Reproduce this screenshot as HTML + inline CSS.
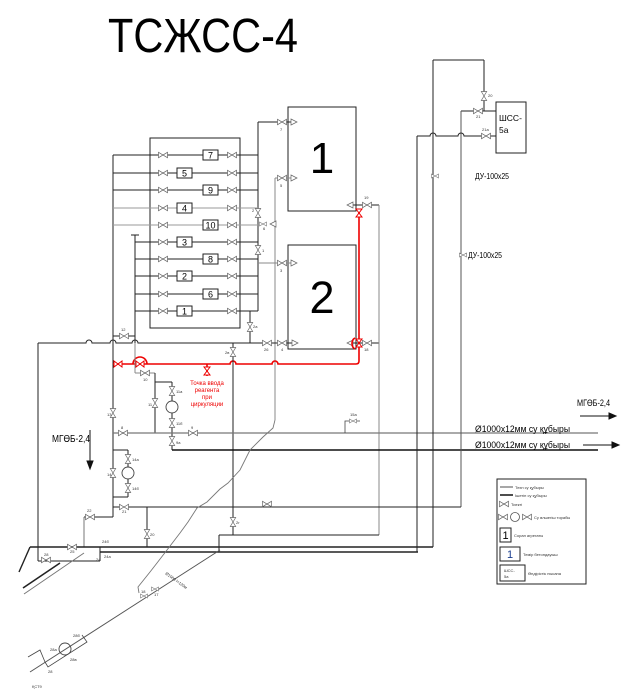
<!DOCTYPE html>
<html><head><meta charset="utf-8">
<style>
html,body{margin:0;padding:0;background:#fff;}
svg{display:block;}
text{font-family:"Liberation Sans",sans-serif;}
</style></head>
<body>
<svg width="625" height="693" viewBox="0 0 625 693" xmlns="http://www.w3.org/2000/svg">
<defs>
<g id="vh"><path d="M-4.5,-2.7 L4.5,2.7 L4.5,-2.7 L-4.5,2.7 Z" fill="#fff" stroke="#666" stroke-width="0.7"/></g>
<g id="vv"><path d="M-2.7,-4.5 L2.7,4.5 L-2.7,4.5 L2.7,-4.5 Z" fill="#fff" stroke="#666" stroke-width="0.7"/></g>
<g id="vs"><path d="M-3.5,-2 L3.5,2 L3.5,-2 L-3.5,2 Z" fill="#fff" stroke="#777" stroke-width="0.6"/></g>
<g id="vr"><path d="M-4,-3 L4,3 L4,-3 L-4,3 Z" fill="#fff" stroke="#e00" stroke-width="1"/></g>
<g id="vrv"><path d="M-3,-4 L3,4 L-3,4 L3,-4 Z" fill="#fff" stroke="#e00" stroke-width="1"/></g>
<g id="ar"><path d="M0,-3 L6,0 L0,3 Z" fill="#fff" stroke="#666" stroke-width="0.7"/></g>
<g id="al"><path d="M0,-3 L-6,0 L0,3 Z" fill="#fff" stroke="#666" stroke-width="0.7"/></g>
</defs>

<!-- Title -->
<text x="108" y="52" font-size="48" textLength="190" lengthAdjust="spacingAndGlyphs" fill="#000">ТСЖСС-4</text>

<!-- ===== Grid of pumps ===== -->
<g stroke="#222" stroke-width="1" fill="none">
  <rect x="150" y="138" width="90" height="190"/>
  <line x1="113" y1="155" x2="113" y2="517"/>
  <line x1="135" y1="235" x2="135" y2="343"/>
  <line x1="131" y1="235" x2="139" y2="235"/>
  <line x1="258" y1="122" x2="258" y2="311"/>
  <line x1="258" y1="311" x2="250" y2="311"/>
  <line x1="250" y1="311" x2="250" y2="343"/>
  <!-- rows -->
  <line x1="113" y1="155" x2="258" y2="155"/>
  <line x1="113" y1="173" x2="258" y2="173"/>
  <line x1="113" y1="190" x2="258" y2="190"/>
  <line x1="113" y1="208" x2="258" y2="208" stroke="#999"/>
  <line x1="113" y1="225" x2="258" y2="225" stroke="#999"/>
  <line x1="135" y1="242" x2="258" y2="242"/>
  <line x1="135" y1="259" x2="258" y2="259"/>
  <line x1="135" y1="276" x2="258" y2="276"/>
  <line x1="135" y1="294" x2="258" y2="294"/>
  <line x1="135" y1="311" x2="258" y2="311"/>
</g>
<g>
  <use href="#vh" x="163" y="155"/><use href="#vh" x="232" y="155"/>
  <use href="#vh" x="163" y="173"/><use href="#vh" x="232" y="173"/>
  <use href="#vh" x="163" y="190"/><use href="#vh" x="232" y="190"/>
  <use href="#vh" x="163" y="208"/><use href="#vh" x="232" y="208"/>
  <use href="#vh" x="163" y="225"/><use href="#vh" x="232" y="225"/>
  <use href="#vh" x="163" y="242"/><use href="#vh" x="232" y="242"/>
  <use href="#vh" x="163" y="259"/><use href="#vh" x="232" y="259"/>
  <use href="#vh" x="163" y="276"/><use href="#vh" x="232" y="276"/>
  <use href="#vh" x="163" y="294"/><use href="#vh" x="232" y="294"/>
  <use href="#vh" x="163" y="311"/><use href="#vh" x="232" y="311"/>
</g>
<g fill="#fff" stroke="#222" stroke-width="1">
  <rect x="203" y="150" width="15" height="10"/>
  <rect x="177" y="168" width="15" height="10"/>
  <rect x="203" y="185" width="15" height="10"/>
  <rect x="177" y="203" width="15" height="10"/>
  <rect x="203" y="220" width="15" height="10"/>
  <rect x="177" y="237" width="15" height="10"/>
  <rect x="203" y="254" width="15" height="10"/>
  <rect x="177" y="271" width="15" height="10"/>
  <rect x="203" y="289" width="15" height="10"/>
  <rect x="177" y="306" width="15" height="10"/>
</g>
<g font-size="9" text-anchor="middle" fill="#000">
  <text x="210.5" y="158.5">7</text>
  <text x="184.5" y="176.5">5</text>
  <text x="210.5" y="193.5">9</text>
  <text x="184.5" y="211.5">4</text>
  <text x="210.5" y="228.5">10</text>
  <text x="184.5" y="245.5">3</text>
  <text x="210.5" y="262.5">8</text>
  <text x="184.5" y="279.5">2</text>
  <text x="210.5" y="297.5">6</text>
  <text x="184.5" y="314.5">1</text>
</g>

<!-- ===== Big boxes 1 & 2 ===== -->
<g stroke="#222" stroke-width="1" fill="none">
  <rect x="288" y="107" width="68" height="104"/>
  <rect x="288" y="245" width="68" height="104"/>
  <line x1="258" y1="122" x2="292" y2="122"/>
  <line x1="275" y1="178" x2="292" y2="178" stroke="#888"/>
  <line x1="258" y1="263" x2="292" y2="263" stroke="#888"/>
  <line x1="275" y1="178" x2="275" y2="420" stroke="#888"/>
  <line x1="350" y1="205" x2="379" y2="205"/>
  <line x1="350" y1="343" x2="379" y2="343"/>
  <line x1="379" y1="205" x2="379" y2="535" stroke="#888"/>
</g>
<text x="322" y="173" font-size="44" text-anchor="middle" fill="#000">1</text>
<text x="322" y="313" font-size="45" text-anchor="middle" fill="#000">2</text>
<use href="#vh" x="282" y="122"/><use href="#ar" x="291" y="122"/>
<use href="#vh" x="282" y="178"/><use href="#ar" x="291" y="178"/>
<use href="#vh" x="282" y="263"/><use href="#ar" x="291" y="263"/>
<use href="#vv" x="258" y="213"/><use href="#vv" x="258" y="250"/>
<use href="#vs" x="263" y="224"/><use href="#al" x="276" y="224"/>
<use href="#vv" x="250" y="327"/>
<use href="#vh" x="367" y="205"/><use href="#al" x="353" y="205"/>
<use href="#vh" x="367" y="343"/><use href="#al" x="353" y="343"/>

<!-- main horizontal y=343 -->
<path d="M38,343 L86,343 A3,3 0 0 1 92,343 L110,343 A3,3 0 0 1 116,343 L132,343 A3,3 0 0 1 138,343 L298,343" stroke="#222" stroke-width="1" fill="none"/>
<use href="#vh" x="267" y="343"/><use href="#vh" x="282" y="343"/><use href="#ar" x="292" y="343"/>
<line x1="38" y1="343" x2="38" y2="561" stroke="#222" stroke-width="1"/>
<line x1="113" y1="336" x2="135" y2="336" stroke="#222" stroke-width="1"/>
<use href="#vh" x="124" y="336"/>

<!-- red circulation line -->
<g stroke="#e00" stroke-width="1.6" fill="none">
  <path d="M113,364 L230,364 A3,3 0 0 1 236,364 L272,364 A3,3 0 0 1 278,364 L356,364 Q359,364 359,361 L359,210"/>
  <path d="M133,364 A7,7 0 0 1 147,364"/>
  <path d="M355,338 A5,6 0 0 0 355,349" />
  <line x1="207" y1="364" x2="207" y2="376"/>
</g>
<use href="#vr" x="118" y="364"/><use href="#vr" x="140" y="364"/>
<use href="#vrv" x="359" y="213"/><use href="#vrv" x="359" y="343"/>
<use href="#vrv" x="207" y="371"/>
<g font-family="Liberation Serif, serif" font-size="6" fill="#e00" text-anchor="middle">
  <text x="207" y="385">Точка ввода</text>
  <text x="207" y="392">реагента</text>
  <text x="207" y="399">при</text>
  <text x="207" y="406">циркуляции</text>
</g>

<!-- pump branches -->
<g stroke="#222" stroke-width="1" fill="none">
  <line x1="135" y1="343" x2="135" y2="373" stroke="#888"/>
  <line x1="135" y1="373" x2="155" y2="373" stroke="#888"/>
  <line x1="155" y1="373" x2="155" y2="433"/>
  <line x1="155" y1="382" x2="172" y2="382"/>
  <line x1="172" y1="382" x2="172" y2="450"/>
  <line x1="233" y1="343" x2="233" y2="535"/>
  <line x1="219" y1="535" x2="379" y2="535"/>
  <line x1="219" y1="535" x2="219" y2="552"/>
  <line x1="113" y1="450" x2="128" y2="450"/>
  <line x1="128" y1="450" x2="128" y2="497"/>
  <line x1="113" y1="497" x2="128" y2="497"/>
</g>
<use href="#vh" x="145" y="373"/>
<use href="#vv" x="155" y="403"/>
<use href="#vv" x="172" y="391"/>
<circle cx="172" cy="407" r="6" fill="#fff" stroke="#444" stroke-width="0.9"/>
<use href="#vv" x="172" y="423"/>
<use href="#vv" x="172" y="441"/>
<use href="#vv" x="233" y="352"/>
<use href="#vv" x="113" y="413"/>
<use href="#vv" x="128" y="459"/>
<circle cx="128" cy="473" r="6" fill="#fff" stroke="#444" stroke-width="0.9"/>
<use href="#vv" x="128" y="488"/>
<use href="#vv" x="113" y="473"/>

<!-- main pipes -->
<line x1="113" y1="433" x2="598" y2="433" stroke="#777" stroke-width="1.2"/>
<line x1="172" y1="450" x2="598" y2="450" stroke="#111" stroke-width="1.6"/>
<use href="#vh" x="123" y="433"/><use href="#vh" x="193" y="433"/>
<path d="M345,433 L345,421 L360,421" stroke="#444" stroke-width="0.8" fill="none"/>
<use href="#vs" x="353" y="421"/>
<g font-size="9.5" fill="#000">
  <text x="475" y="432" textLength="95" lengthAdjust="spacingAndGlyphs">Ø1000x12мм су құбыры</text>
  <text x="475" y="448" textLength="95" lengthAdjust="spacingAndGlyphs">Ø1000x12мм су құбыры</text>
  <text x="577" y="406" font-size="9" textLength="33" lengthAdjust="spacingAndGlyphs">МГӨБ-2,4</text>
  <text x="52" y="442" font-size="10" textLength="38" lengthAdjust="spacingAndGlyphs">МГӨБ-2,4</text>
</g>
<g stroke="#111" stroke-width="1" fill="#111">
  <line x1="580" y1="416" x2="611" y2="416"/><path d="M609,413 L616,416 L609,419 Z"/>
  <line x1="583" y1="445" x2="614" y2="445"/><path d="M612,442 L619,445 L612,448 Z"/>
  <line x1="90" y1="430" x2="90" y2="463"/><path d="M87,461 L90,469 L93,461 Z"/>
</g>

<!-- right side -->
<g stroke="#222" stroke-width="1" fill="none">
  <line x1="433" y1="60" x2="433" y2="547"/>
  <line x1="433" y1="60" x2="484" y2="60"/>
  <line x1="484" y1="60" x2="484" y2="111"/>
  <line x1="461" y1="111" x2="496" y2="111"/>
  <line x1="461" y1="111" x2="461" y2="507" stroke="#555"/>
  <path d="M417,136 L430,136 A3,3 0 0 1 436,136 L458,136 A3,3 0 0 1 464,136 L496,136"/>
  <line x1="417" y1="136" x2="417" y2="552"/>
  <rect x="496" y="102" width="30" height="51"/>
</g>
<use href="#vv" x="484" y="96"/>
<use href="#vh" x="478" y="111"/>
<use href="#vh" x="486" y="136"/>
<use href="#vs" x="435" y="176"/>
<use href="#vs" x="463" y="255"/>
<text x="499" y="121" font-size="8.5" fill="#000">ШСС-</text>
<text x="499" y="133" font-size="8.5" fill="#000">5а</text>
<text x="475" y="179" font-size="8" fill="#000" textLength="34" lengthAdjust="spacingAndGlyphs">ДУ-100x25</text>
<text x="468" y="258" font-size="8" fill="#000" textLength="34" lengthAdjust="spacingAndGlyphs">ДУ-100x25</text>

<!-- lower section -->
<g stroke="#222" stroke-width="1" fill="none">
  <line x1="113" y1="507" x2="461" y2="507"/>
  <line x1="147" y1="507" x2="147" y2="547"/>
  <line x1="84" y1="517" x2="113" y2="517"/>
  <line x1="84" y1="517" x2="84" y2="547" stroke="#777"/>
  <line x1="30" y1="547" x2="433" y2="547" stroke-width="1.6"/>
  <line x1="100" y1="552" x2="418" y2="552" stroke-width="1.6"/>
  <line x1="38" y1="561" x2="100" y2="561"/>
  <line x1="100" y1="547" x2="100" y2="561"/>
  <line x1="30" y1="547" x2="19" y2="572" stroke-width="1.4"/>
  <line x1="60" y1="563" x2="23" y2="588" stroke-width="1.6"/>
  <line x1="84" y1="553" x2="24" y2="594" stroke="#777"/>
  <line x1="220" y1="550" x2="30" y2="672" stroke="#555"/>
  <path d="M82,635 L87,642 L48,667 L45,662" stroke="#444" stroke-width="0.8"/>
  <path d="M28,657 L40,650 L45,662" stroke="#444" stroke-width="0.8"/>
  <polyline points="275,420 273,428 263,437 250,450 240,470 228,483 220,489 207,502 197,508 188,522 180,533 167,550 157,563 150,572 138,587 139,593" stroke="#777" stroke-width="0.9"/>
</g>
<circle cx="65" cy="649" r="6" fill="none" stroke="#444" stroke-width="0.9"/>
<use href="#vh" x="124" y="507"/>
<use href="#vh" x="267" y="504"/>
<use href="#vh" x="90" y="517"/>
<use href="#vv" x="147" y="534"/>
<use href="#vv" x="233" y="522"/>
<use href="#vh" x="72" y="547"/>
<use href="#vh" x="46" y="560"/>
<use href="#vs" x="144" y="596"/>
<use href="#vs" x="155" y="589"/>
<text x="165" y="574" font-size="4" fill="#333" transform="rotate(36 165 574)">Ø1000 l=120м</text>

<!-- valve labels (tiny) -->
<g font-size="4" fill="#333">
  <text x="280" y="131">7</text><text x="280" y="187">5</text><text x="280" y="272">3</text>
  <text x="252" y="212">2</text><text x="263" y="230">6</text><text x="262" y="252">1</text>
  <text x="253" y="328">2а</text><text x="264" y="351">26</text><text x="281" y="351">4</text>
  <text x="364" y="199">19</text><text x="364" y="351">18</text>
  <text x="488" y="97">20</text><text x="476" y="118">21</text><text x="482" y="131">21а</text>
  <text x="121" y="331">12</text><text x="143" y="381">10</text>
  <text x="176" y="393">11а</text><text x="148" y="406">11</text><text x="176" y="425">11б</text>
  <text x="176" y="444">9а</text><text x="121" y="429">8</text><text x="191" y="429">9</text>
  <text x="107" y="416">13</text><text x="132" y="461">14а</text><text x="107" y="476">14</text><text x="132" y="490">14б</text>
  <text x="350" y="416">15а</text><text x="225" y="354">2в</text>
  <text x="122" y="513">21</text><text x="87" y="512">22</text><text x="150" y="536">20</text><text x="236" y="524">2г</text>
  <text x="70" y="553">25</text><text x="44" y="556">28</text>
  <text x="102" y="543">24б</text><text x="104" y="558">24а</text><text x="96" y="561">24</text>
  <text x="141" y="593">18</text><text x="154" y="596">17</text>
  <text x="73" y="637">28б</text><text x="50" y="651">28а</text><text x="70" y="661">28в</text><text x="48" y="673">28</text>
  <text x="32" y="688">ҚСТ9</text>
</g>

<!-- legend -->
<g stroke="#222" stroke-width="1" fill="none">
  <rect x="497" y="479" width="89" height="105"/>
  <line x1="500" y1="487" x2="513" y2="487" stroke-width="0.8"/>
  <line x1="500" y1="495" x2="513" y2="495" stroke-width="1.6"/>
  <rect x="500" y="528" width="11" height="14"/>
  <rect x="500" y="547" width="20" height="14"/>
  <rect x="500" y="565" width="25" height="16"/>
</g>
<use href="#vh" x="504" y="504"/>
<use href="#vh" x="503" y="517"/>
<circle cx="515" cy="517" r="4.5" fill="#fff" stroke="#555" stroke-width="0.8"/>
<use href="#vh" x="527" y="517"/>
<text x="505.5" y="539" font-size="11" text-anchor="middle" fill="#000">1</text>
<text x="510" y="558" font-size="11" text-anchor="middle" fill="#1a3d8f">1</text>
<g font-size="4" fill="#333">
  <text x="515" y="489">Техн су құбыры</text>
  <text x="515" y="497">Ішетін су құбыры</text>
  <text x="511" y="506">Тиекті</text>
  <text x="534" y="519">Су өлшегіш торабы</text>
  <text x="514" y="537">Сорап агрегаты</text>
  <text x="523" y="556">Темір бетондауыш</text>
  <text x="504" y="572">ШСС-</text>
  <text x="504" y="578">5а</text>
  <text x="528" y="575">Өндірістік нысана</text>
</g>
</svg>
</body></html>
